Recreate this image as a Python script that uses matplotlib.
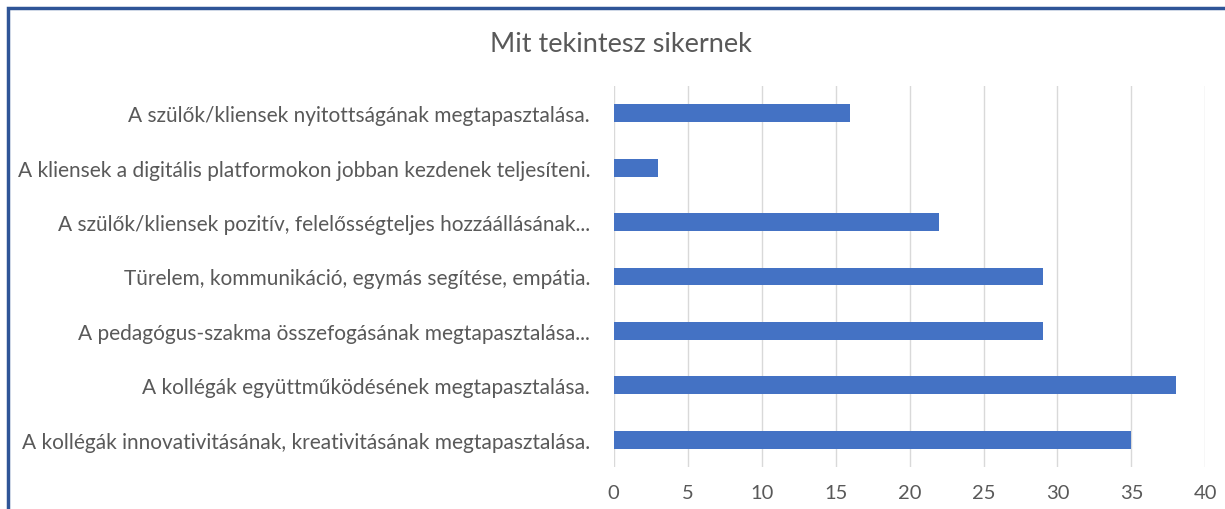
import matplotlib
matplotlib.use("Agg")
import matplotlib.pyplot as plt
from matplotlib.patches import Rectangle

categories = [
    "A szülők/kliensek nyitottságának megtapasztalása.",
    "A kliensek a digitális platformokon jobban kezdenek teljesíteni.",
    "A szülők/kliensek pozitív, felelősségteljes hozzáállásának...",
    "Türelem, kommunikáció, egymás segítése, empátia.",
    "A pedagógus-szakma összefogásának megtapasztalása...",
    "A kollégák együttműködésének megtapasztalása.",
    "A kollégák innovativitásának, kreativitásának megtapasztalása.",
]
values = [16, 3, 22, 29, 29, 38, 35]
xticks = [0, 5, 10, 15, 20, 25, 30, 35, 40]
title = "Mit tekintesz sikernek"

plt.rcParams['font.family'] = ['Lato', 'DejaVu Sans']
gray = "#595959"

fig = plt.figure(figsize=(12.25, 5.1), dpi=100)
ax = fig.add_axes([0.501, 0.0824, 0.483, 0.747])

n = len(categories)
ypos = list(range(n))[::-1]
ax.barh(ypos, values, height=0.33, color="#4472C4", zorder=3)
ax.set_yticks(ypos)
ax.set_yticklabels(categories, fontsize=15, color=gray)
ax.set_xlim(0, 40)
ax.set_ylim(-0.5, n - 0.5)
ax.set_xticks(xticks)
ax.set_xticklabels([str(t) for t in xticks], fontsize=14.5, color=gray)
ax.grid(axis='x', color="#D9D9D9", linewidth=1, zorder=0)
for s in ax.spines.values():
    s.set_visible(False)
ax.tick_params(axis='x', length=0, pad=12)
ax.tick_params(axis='y', length=0, pad=17)

fig.text(0.507, 1 - 45 / 510, title, ha='center', va='center', fontsize=19.5, color=gray)

# frame on left/top (figure is cropped)
fig.patches.append(Rectangle((7.5 / 1225, -0.1), 1.2, 1 - 8.5 / 510 + 0.1,
                             transform=fig.transFigure, fill=False,
                             edgecolor="#2F5597", linewidth=2.5))

fig.savefig("out.png", dpi=100)
